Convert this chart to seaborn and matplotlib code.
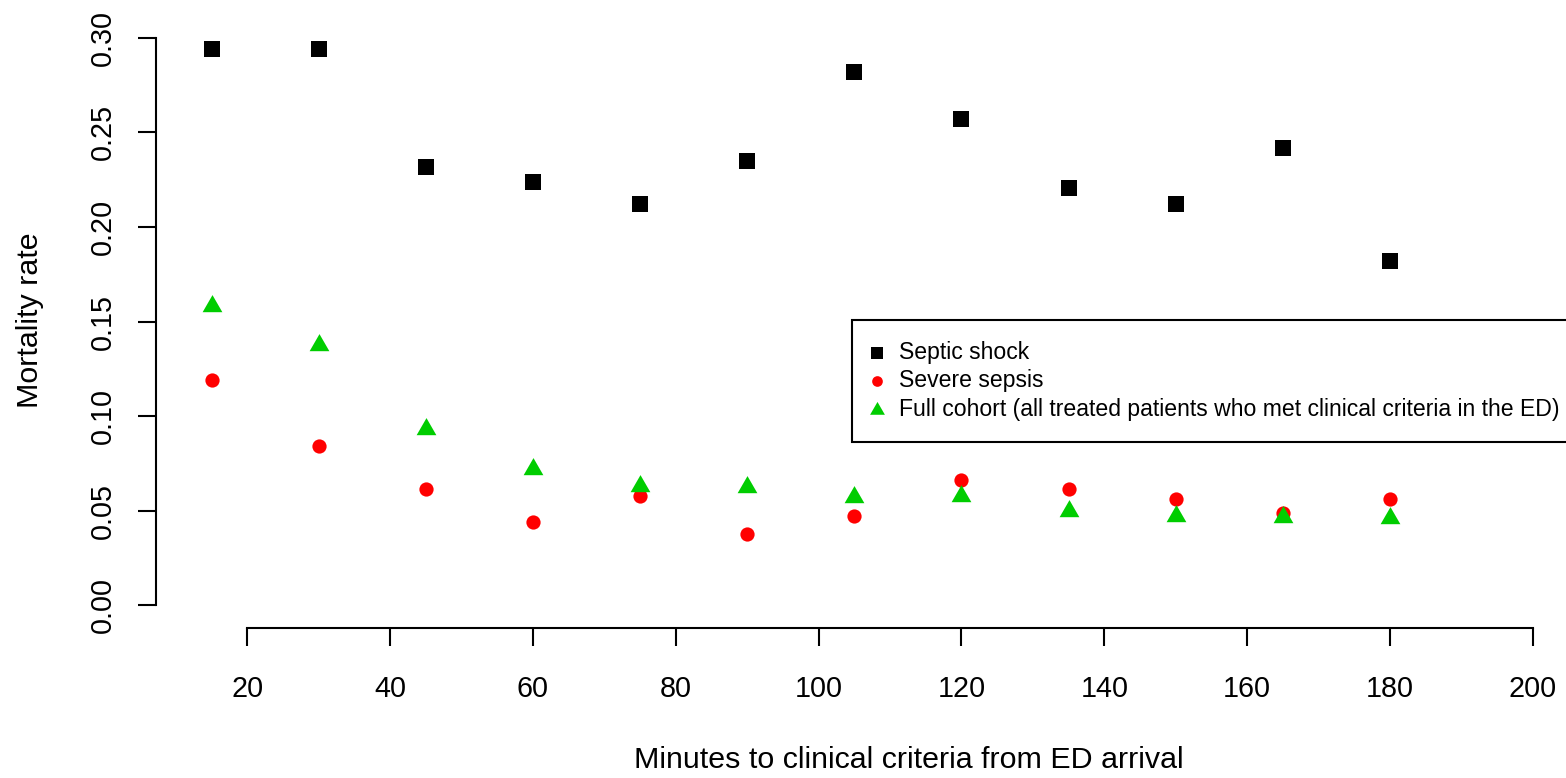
import numpy as np
import pandas as pd
import matplotlib
matplotlib.use("Agg")
import matplotlib.pyplot as plt
import seaborn as sns

minutes = [15, 30, 45, 60, 75, 90, 105, 120, 135, 150, 165, 180]
septic_shock = [0.294, 0.294, 0.2315, 0.2236, 0.212, 0.2347, 0.282, 0.257, 0.2204, 0.212, 0.2416, 0.182]
severe_sepsis = [0.119, 0.084, 0.0616, 0.044, 0.058, 0.0377, 0.047, 0.0664, 0.0616, 0.0563, 0.049, 0.0563]
full_cohort = [0.158, 0.1375, 0.093, 0.072, 0.063, 0.0627, 0.057, 0.058, 0.050, 0.047, 0.0467, 0.046]
series_names = ["Septic shock", "Severe sepsis",
                "Full cohort (all treated patients who met clinical criteria in the ED)"]
x_ticks = [20, 40, 60, 80, 100, 120, 140, 160, 180, 200]
y_ticks = [0.00, 0.05, 0.10, 0.15, 0.20, 0.25, 0.30]

sns.set_style("white")
plt.rcParams['font.family'] = ['Liberation Sans', 'DejaVu Sans']
plt.rcParams['text.color'] = 'black'
plt.rcParams['axes.labelcolor'] = 'black'

W, H = 1566, 778
fig = plt.figure(figsize=(W / 100, H / 100), dpi=100)
left_px, right_px, top_px, bottom_px = 155.8, 1660.0, 15.0, 628.0
ax = fig.add_axes([left_px / W, (H - bottom_px) / H,
                   (right_px - left_px) / W, (bottom_px - top_px) / H])

tri = [(-1, -0.577), (1, -0.577), (0, 1.155)]
styles = [
    (septic_shock, "black", "s", 135),
    (severe_sepsis, "#FF0000", "o", 105),
    (full_cohort, "#00CD00", tri, 270),
]
for name, (vals, col, mk, sz) in zip(series_names, styles):
    df = pd.DataFrame({"x": minutes, "y": vals})
    sns.scatterplot(data=df, x="x", y="y", ax=ax, color=col, marker=mk, s=sz,
                    linewidth=0, label=name, legend=False)

ax.set_xlim(7.2, 217.8)
ax.set_ylim(-0.012, 0.312)

for s in ["top", "right"]:
    ax.spines[s].set_visible(False)
for s in ["left", "bottom"]:
    ax.spines[s].set_linewidth(1.5)
    ax.spines[s].set_color("black")
ax.spines["left"].set_bounds(0, 0.30)
ax.spines["bottom"].set_bounds(20, 200)

ax.set_xticks(x_ticks)
ax.set_xticklabels([str(t) for t in x_ticks])
ax.set_yticks(y_ticks)
ax.set_yticklabels([f"{t:.2f}" for t in y_ticks], rotation=90, va="center")
ax.tick_params(axis="both", direction="out", length=13, width=1.5, color="black",
               labelsize=20.7, labelcolor="black", left=True, bottom=True)
ax.tick_params(axis="y", pad=15)
ax.tick_params(axis="x", pad=21)

ax.set_xlabel("Minutes to clinical criteria from ED arrival", fontsize=21.9,
              va="center", ha="center")
ax.set_ylabel("Mortality rate", fontsize=21.9, va="center", ha="center")
axw = right_px - left_px
axh = bottom_px - top_px
ax.xaxis.set_label_coords((909 - left_px) / axw, (bottom_px - 760) / axh)
ax.yaxis.set_label_coords((30 - left_px) / axw, (bottom_px - 320) / axh)

handles = ax.collections[:3]
leg = ax.legend(handles=handles, labels=series_names, loc="upper left",
                bbox_to_anchor=(852 / W, 1 - 320 / H), bbox_transform=fig.transFigure,
                fontsize=16.6, frameon=True, fancybox=False, shadow=False,
                borderpad=0.9, labelspacing=0.24, handlelength=0.35,
                handletextpad=0.8, borderaxespad=0, markerscale=0.75)
leg.get_frame().set_edgecolor("black")
leg.get_frame().set_linewidth(1.5)
leg.get_frame().set_alpha(1)

fig.savefig("out.png", dpi=100)
